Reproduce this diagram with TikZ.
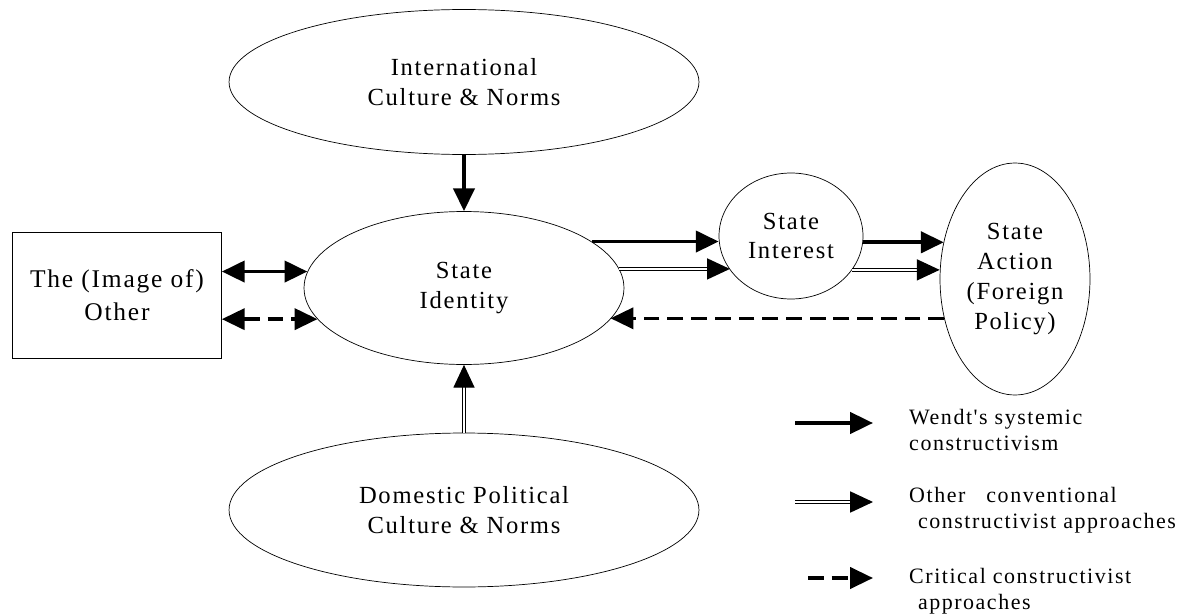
\documentclass[tikz,border=0pt]{standalone}
\usepackage{fontspec}
\setmainfont{Liberation Serif}
\newfontfamily\diagfont{Liberation Serif}[LetterSpace=7]
\usetikzlibrary{arrows.meta,shapes.geometric}
\tikzset{
  blob/.style={draw, ellipse, inner sep=0pt, align=center, font=\diagfont\fontsize{14}{17}\selectfont},
  framebox/.style={draw, rectangle, inner sep=0pt, align=center, font=\diagfont\fontsize{14.5}{19}\selectfont},
  keytext/.style={anchor=west, align=left, font=\diagfont\fontsize{12.5}{14.7}\selectfont},
  wendtarrow/.style={line width=2.2pt, -{Triangle[length=13pt,width=12pt]}},
  convarrow/.style={double, line width=0.7pt, double distance=1.1pt, -{Triangle[length=13pt,width=12pt]}},
  critarrow/.style={line width=2pt, dash pattern=on 9pt off 4.5pt, -{Triangle[length=13pt,width=12pt]}}
}
\begin{document}
\begin{tikzpicture}[x=0.02cm,y=0.02cm]
  \useasboundingbox (0,0) rectangle (1187,-615);
  \node[blob, minimum width=9.4cm, minimum height=2.9cm] (intl) at (464,-82) {International\\Culture \& Norms};
  \node[blob, minimum width=6.4cm, minimum height=3.06cm] (id) at (464,-288) {State\\Identity};
  \node[blob, minimum width=9.4cm, minimum height=3.08cm] (dom) at (464,-510) {Domestic Political\\Culture \& Norms};
  \node[framebox, minimum width=4.18cm, minimum height=2.52cm] (other) at (117,-295) {The (Image of)\\Other};
  \node[blob, minimum width=2.88cm, minimum height=2.52cm] (int) at (791,-236) {State\\Interest};
  \node[blob, minimum width=3cm, minimum height=4.64cm] (act) at (1015,-279) {State\\Action\\(Foreign\\Policy)};
  \draw[wendtarrow] (intl.south) -- (id.north);
  \draw[convarrow] (dom.north) -- (id.south);
  \draw[wendtarrow, {Triangle[length=13pt,width=12pt]}-{Triangle[length=13pt,width=12pt]}] (other.east |- id.174) -- (id.174);
  \draw[critarrow, {Triangle[length=13pt,width=12pt]}-{Triangle[length=13pt,width=12pt]}] (other.east |- id.192) -- (id.192);
  \draw[wendtarrow] (id.20) -- (id.20 -| int.west);
  \draw[convarrow] (id.7) -- (id.7 -| int.209);
  \draw[wendtarrow] (int.355) -- (int.355 -| act.152);
  \draw[convarrow] (int.331) -- (int.331 -| act.west);
  \draw[critarrow] (act.209) -- (act.209 -| id.348);
  \coordinate (k1a) at (795,-423);
  \coordinate (k1b) at (873,-423);
  \coordinate (k2a) at (795,-502);
  \coordinate (k2b) at (873,-502);
  \coordinate (k3a) at (808,-578);
  \coordinate (k3b) at (873,-578);
  \draw[wendtarrow] (k1a) -- (k1b);
  \draw[convarrow] (k2a) -- (k2b);
  \draw[critarrow] (k3a) -- (k3b);
  \node[keytext] (k1) at (903,-430) {Wendt's systemic\\constructivism};
  \node[keytext] (k2) at (903,-510) {Other\ \ \ conventional\\\hspace*{5pt}constructivist approaches};
  \node[keytext] (k3) at (903,-591) {Critical constructivist\\\hspace*{5pt}approaches};
\end{tikzpicture}
\end{document}
